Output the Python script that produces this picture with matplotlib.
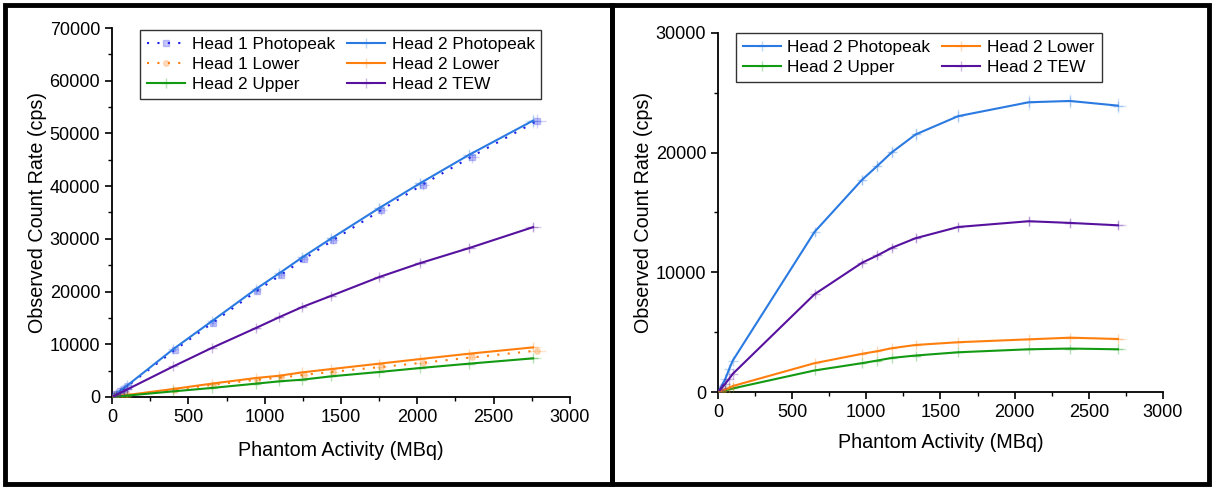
"""Count rate vs phantom activity, two panels (linear range / saturation)."""

import matplotlib

matplotlib.use("Agg")
import matplotlib.pyplot as plt
from matplotlib.colors import to_rgba
from matplotlib.patches import Rectangle
from matplotlib.ticker import MultipleLocator

plt.rcParams["font.family"] = ["Liberation Sans", "DejaVu Sans"]

# ---- left panel: activity (MBq) and count rates (cps)
act_left = [12, 25, 50, 75, 100, 402, 652, 942, 1097, 1245, 1436, 1749, 2019, 2338, 2758]
act_left_h1 = [14, 27, 53, 78, 104, 410, 660, 952, 1108, 1258, 1450, 1765, 2035, 2355, 2785]
h1_photopeak = [250, 520, 1060, 1600, 2150, 8900, 14100, 20200, 23200, 26200, 29800,
                35500, 40300, 45600, 52400]
h1_lower = [40, 85, 170, 255, 340, 1400, 2300, 3300, 3700, 4200, 4800, 5700, 6500, 7500, 8800]
h2_photopeak_l = [260, 550, 1100, 1650, 2200, 9100, 14340, 20470, 23500, 26470, 30070,
                  35820, 40560, 45930, 52430]
h2_lower_l = [45, 95, 190, 285, 380, 1520, 2530, 3600, 4040, 4670, 5300, 6320, 7200, 8210, 9410]
h2_upper_l = [32, 68, 135, 200, 270, 1070, 1710, 2530, 2970, 3280, 3920, 4740, 5500, 6320, 7330]
h2_tew_l = [175, 360, 720, 1080, 1440, 5810, 9290, 13080, 15160, 17060, 19200, 22740,
            25400, 28240, 32220]

# ---- right panel
act_right = [12, 25, 50, 75, 100, 651, 971, 1074, 1172, 1332, 1619, 2094, 2373, 2696]
h2_photopeak_r = [200, 500, 1100, 1900, 2630, 13380, 17730, 18890, 20030, 21520, 23050,
                  24210, 24320, 23930]
h2_lower_r = [40, 100, 220, 350, 500, 2410, 3190, 3410, 3660, 3930, 4160, 4400, 4540, 4430]
h2_upper_r = [30, 70, 150, 230, 300, 1800, 2410, 2630, 2850, 3050, 3320, 3570, 3630, 3570]
h2_tew_r = [150, 350, 700, 1100, 1520, 8170, 10800, 11410, 12050, 12850, 13790, 14270,
            14130, 13930]

BLUE = "#2a7ae2"
BLUE1 = "#2020e8"
ORANGE = "#ff7f0e"
GREEN = "#139a13"
PURPLE = "#56129e"

FS_TICK = 13
FS_LABEL = 14.2
FS_LEG = 12.4
DOTS = (0, (1, 4))

LEG_KW = dict(ncol=2, loc="upper left", fontsize=FS_LEG, frameon=True, fancybox=False,
              edgecolor="black", handlelength=2.2, handletextpad=0.4, columnspacing=0.7,
              labelspacing=0.3, borderpad=0.4, borderaxespad=0.0)


def series(ax, x, y, color, label, ls="-", marker="+", ms=7, lw=1.5, malpha=0.3):
    ax.errorbar(x, y, xerr=[v * 0.02 for v in x], yerr=[v * 0.025 for v in y],
                fmt="none", ecolor=color, alpha=0.2, elinewidth=1.0, zorder=2)
    ax.plot(x, y, ls=ls, color=color, lw=lw, marker=marker, ms=ms, mew=1.0,
            mfc=to_rgba(color, malpha), mec=to_rgba(color, malpha), label=label, zorder=3)


def style(ax, ymax, ymajor, yminor):
    ax.set_xlim(0, 3000)
    ax.set_ylim(0, ymax)
    ax.xaxis.set_major_locator(MultipleLocator(500))
    ax.xaxis.set_minor_locator(MultipleLocator(250))
    ax.yaxis.set_major_locator(MultipleLocator(ymajor))
    ax.yaxis.set_minor_locator(MultipleLocator(yminor))
    for side in ("top", "right"):
        ax.spines[side].set_visible(False)
    for side in ("left", "bottom"):
        ax.spines[side].set_linewidth(1.3)
    ax.tick_params(which="major", direction="out", length=5, width=1.2, labelsize=FS_TICK)
    ax.tick_params(which="minor", direction="out", length=3, width=1.0)
    ax.set_ylabel("Observed Count Rate (cps)", fontsize=FS_LABEL, labelpad=2)


fig = plt.figure(figsize=(12.14, 4.88), dpi=100)

# panel frames
fig.patches.append(Rectangle((0.004, 0.008), 0.500, 0.982, transform=fig.transFigure,
                             fill=False, ec="black", lw=3.5, zorder=0))
fig.patches.append(Rectangle((0.504, 0.008), 0.492, 0.982, transform=fig.transFigure,
                             fill=False, ec="black", lw=3.5, zorder=0))

# ---- left
ax1 = fig.add_axes([0.0923, 0.1865, 0.3772, 0.7561])
series(ax1, act_left_h1, h1_photopeak, BLUE1, "Head 1 Photopeak", ls=DOTS, marker="s", ms=4,
       malpha=0.25)
series(ax1, act_left, h2_photopeak_l, BLUE, "Head 2 Photopeak")
series(ax1, act_left_h1, h1_lower, ORANGE, "Head 1 Lower", ls=DOTS, marker="o", ms=4,
       malpha=0.25)
series(ax1, act_left, h2_lower_l, ORANGE, "Head 2 Lower")
series(ax1, act_left, h2_upper_l, GREEN, "Head 2 Upper")
series(ax1, act_left, h2_tew_l, PURPLE, "Head 2 TEW")
style(ax1, 70000, 10000, 5000)
ax1.set_xlabel("Phantom Activity (MBq)", fontsize=FS_LABEL, labelpad=11)
handles, labels = ax1.get_legend_handles_labels()
order = [0, 2, 4, 1, 3, 5]
leg1 = ax1.legend([handles[i] for i in order], [labels[i] for i in order],
                  bbox_to_anchor=(0.061, 0.995), **LEG_KW)
leg1.get_frame().set_linewidth(1.0)

# ---- right
ax2 = fig.add_axes([0.5914, 0.1967, 0.3666, 0.7357])
series(ax2, act_right, h2_photopeak_r, BLUE, "Head 2 Photopeak")
series(ax2, act_right, h2_upper_r, GREEN, "Head 2 Upper")
series(ax2, act_right, h2_lower_r, ORANGE, "Head 2 Lower")
series(ax2, act_right, h2_tew_r, PURPLE, "Head 2 TEW")
style(ax2, 30000, 10000, 5000)
ax2.set_xlabel("Phantom Activity (MBq)", fontsize=FS_LABEL, labelpad=9)
leg2 = ax2.legend(bbox_to_anchor=(0.04, 1.0), **LEG_KW)
leg2.get_frame().set_linewidth(1.0)

fig.savefig("out.png", dpi=100)
